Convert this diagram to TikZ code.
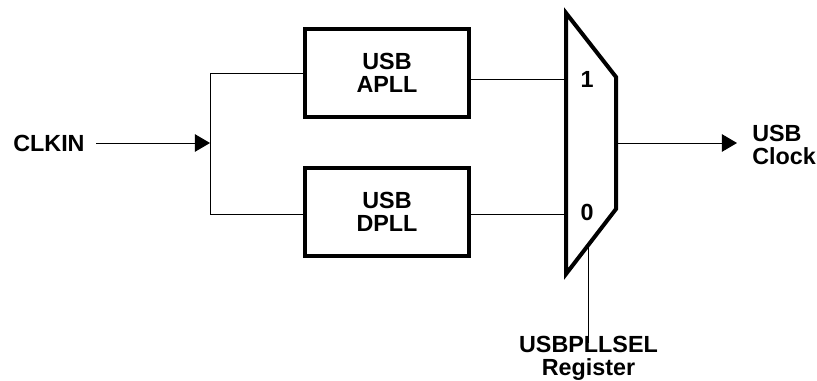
\documentclass[tikz,border=0pt]{standalone}
\usepackage{fontspec}
\setmainfont{Liberation Sans}
\usepackage{tikz}
\usetikzlibrary{positioning,calc,arrows.meta}
\tikzstyle{block} = [rectangle, draw=black, line width=0.1cm, minimum width=4.1cm, minimum height=2.2cm, align=center, inner sep=0pt, font=\fontsize{16.6}{16.2}\selectfont\bfseries]
\tikzstyle{txt} = [inner sep=0pt, font=\fontsize{16.6}{16.2}\selectfont\bfseries]
\tikzstyle{wire} = [line width=0.7pt, draw=black]
\tikzstyle{arrow} = [wire, -{Triangle[length=0.38cm,width=0.44cm]}]

\begin{document}
\begin{tikzpicture}[x=0.025cm, y=-0.025cm]
        \useasboundingbox (0,0) rectangle (817,381);
        % Blocks ----------------------------------------------------------------------------------
        \node[block](apll) at (387,73){USB\\APLL};
        \node[block](dpll) at (387,212){USB\\DPLL};
        % Mux -------------------------------------------------------------------------------------
        \coordinate (mux_tl) at (566,13);
        \coordinate (mux_bl) at (566,274);
        \coordinate (mux_tr) at (616,77);
        \coordinate (mux_br) at (616,209);
        \draw[line width=0.1cm, line join=miter] (mux_tl) -- (mux_tr) -- (mux_br) -- (mux_bl) -- cycle;
        \coordinate (in_one) at (566,79);
        \coordinate (in_zero) at (566,214);
        \coordinate (mux_out) at (616,143);
        \coordinate (mux_sel) at ($(mux_br)!0.55!(mux_bl)$);
        \node[txt](one) at (587,79){1};
        \node[txt](zero) at (587,212){0};
        % Labels ----------------------------------------------------------------------------------
        \node[txt, anchor=west](clkin) at (13,143){CLKIN};
        \node[txt, anchor=west, align=left](usbclk) at (752,145){USB\\Clock};
        \node[txt, anchor=north, align=center](usbpllsel) at (mux_sel |- 0,336){USBPLLSEL\\Register};
        \coordinate (split) at (210,143);
        \coordinate (clk_tip) at (737,143);
        % Arrows ----------------------------------------------------------------------------------
        \draw[arrow] ([xshift=8]clkin.east) -- (split);
        \draw[wire] (split) |- (apll.west);
        \draw[wire] (split) |- ([yshift=-2]dpll.west);
        \draw[wire] (apll.east |- in_one) -- (in_one);
        \draw[wire] (dpll.east |- in_zero) -- (in_zero);
        \draw[arrow] (mux_out) -- (clk_tip);
        \draw[wire] (mux_sel) -- ([yshift=-5]usbpllsel.north);
    \end{tikzpicture}
\end{document}
